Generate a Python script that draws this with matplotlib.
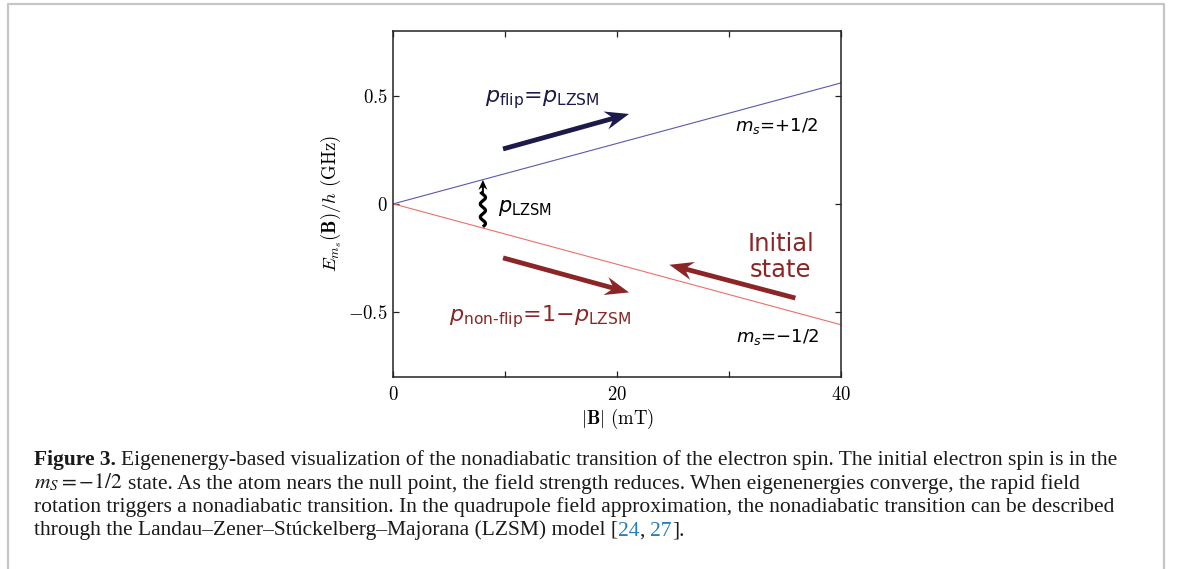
import numpy as np
import matplotlib
matplotlib.use('Agg')
import matplotlib.pyplot as plt
from matplotlib.lines import Line2D

plt.rcParams['mathtext.fontset'] = 'cm'
plt.rcParams['font.family'] = ['DejaVu Sans']

# ---- data ----
field_mT = [0, 40]
energy_up = [0, 0.56]      # m_s = +1/2 branch (GHz)
energy_down = [0, -0.56]   # m_s = -1/2 branch (GHz)

xticks_major = [0, 20, 40]
xtick_labels = [r'$0$', r'$20$', r'$40$']
xticks_minor = [10, 30]
yticks = [-0.5, 0, 0.5]
ytick_labels = [r'$-0.5$', r'$0$', r'$0.5$']

# arrows (tail, head) in data coords
flip_arrow = ((9.8, 0.254), (21.05, 0.416))
nonflip_arrow = ((9.8, -0.25), (21.05, -0.41))
initial_arrow = ((35.9, -0.436), (24.65, -0.282))
lzsm_arrow = ((8.0, -0.106), (8.0, 0.111))

caption_lines = [
    [("Figure 3.", "bold"), ("Eigenenergy-based visualization of the nonadiabatic transition of the electron spin. The initial electron spin is in the", None)],
    [(r"$m_S=-1/2$", "math"), ("state. As the atom nears the null point, the field strength reduces. When eigenenergies converge, the rapid field", None)],
    [("rotation triggers a nonadiabatic transition. In the quadrupole field approximation, the nonadiabatic transition can be described", None)],
    [("through the Landau\u2013Zener\u2013St\u00fackelberg\u2013Majorana (LZSM) model [", None), ("24", "ref"), (",", None), ("27", "ref"), ("].", None)],
]

W, H = 1181, 569
navy = '#1c1a4a'
darkred = '#8c2626'
upcol = '#5a5ab0'
downcol = '#ec7068'

fig = plt.figure(figsize=(W / 100, H / 100), dpi=100)
pos = [393.3 / W, 1 - 376.7 / H, 448 / W, 345.7 / H]
ax = fig.add_axes(pos)

ax.plot(field_mT, energy_up, color=upcol, lw=0.8)
ax.plot(field_mT, energy_down, color=downcol, lw=0.8)
ax.set_xlim(0, 40)
ax.set_ylim(-0.8, 0.8)

ax.set_xticks(xticks_major, labels=xtick_labels)
ax.set_xticks(xticks_minor, minor=True)
ax.set_yticks(yticks, labels=ytick_labels)
ax.tick_params(which='both', direction='in', top=True, right=True, length=4, width=0.9,
               color='#222222', labelsize=13.5)
ax.tick_params(axis='x', pad=6)
ax.tick_params(axis='y', pad=4)
for s in ax.spines.values():
    s.set_linewidth(1.1)
    s.set_color('#222222')

ax.set_xlabel(r'$|\mathbf{B}|\ (\mathrm{mT})$', fontsize=13.5, va='center')
ax.xaxis.set_label_coords(0.5, -0.122)
ax.set_ylabel(r'$E_{m_s}(\mathbf{B})/h\ (\mathrm{GHz})$', fontsize=13.5, va='center')
ax.yaxis.set_label_coords(-0.141, 0.5)

# overlay axes in pixel units so arrow heads are not distorted
ov = fig.add_axes(pos)
ov.set_xlim(0, 448)
ov.set_ylim(0, 345.7)
ov.set_axis_off()
to_px = ax.transData + ov.transData.inverted()

def big_arrow(arr, col):
    (x0, y0), (x1, y1) = to_px.transform(arr)
    ov.arrow(x0, y0, x1 - x0, y1 - y0, width=4.8, head_width=18.5, head_length=24,
             overhang=0.25, length_includes_head=True, color=col, lw=0)

big_arrow(flip_arrow, navy)
big_arrow(nonflip_arrow, darkred)
big_arrow(initial_arrow, darkred)

# wavy LZSM arrow
(sx, sy0), (_, sy1) = to_px.transform(lzsm_arrow)
yy = np.linspace(sy0, sy1 - 12, 200)
xx = sx + 2.6 * np.sin(2 * np.pi * (yy - sy0) / 13.0)
ov.plot(xx, yy, color='black', lw=2.3, solid_capstyle='butt')
ov.arrow(sx, sy1 - 14, 0, 14, width=2.0, head_width=9, head_length=10, overhang=0.25,
         length_includes_head=True, color='black', lw=0)

# labels inside the plot
mf = 'dejavusans'
ax.text(13.3, 0.468, r'$p_{\mathrm{flip}}$=$p_{\mathrm{LZSM}}$', color=navy, fontsize=16,
        ha='center', va='baseline', math_fontfamily=mf)
ax.text(13.1, -0.544, '$p_{\\mathrm{non\u2010flip}}$=1\u2212$p_{\\mathrm{LZSM}}$', color=darkred,
        fontsize=16, ha='center', va='baseline', math_fontfamily=mf)
ax.text(30.5, 0.339, r'$m_s$=+1/2', color='black', fontsize=13, ha='left', va='baseline',
        math_fontfamily=mf)
ax.text(30.6, -0.641, '$m_s$=\u22121/2', color='black', fontsize=13, ha='left', va='baseline',
        math_fontfamily=mf)
ax.text(9.34, -0.036, r'$p_{\mathrm{LZSM}}$', color='black', fontsize=15, ha='left',
        va='baseline', math_fontfamily=mf)
ax.text(34.6, -0.216, 'Initial', color=darkred, fontsize=17.5, ha='center', va='baseline')
ax.text(34.6, -0.339, 'state', color=darkred, fontsize=17.5, ha='center', va='baseline')

# outer grey frame (open at the bottom)
fx = [7.5 / W, 7.5 / W, 1163.5 / W, 1163.5 / W]
fy = [0, 1 - 3.5 / H, 1 - 3.5 / H, 0]
fig.add_artist(Line2D(fx, fy, transform=fig.transFigure, color='#c6c6c6', lw=1.6))

# caption
renderer = fig.canvas.get_renderer()
serif = 'Liberation Serif'

def piece_kw(kind, size):
    kw = dict(fontsize=size, family=serif, color='#1a1a1a')
    if kind == 'bold':
        kw['fontweight'] = 'bold'
    elif kind == 'math':
        kw['math_fontfamily'] = 'stix'
    elif kind == 'ref':
        kw['color'] = '#2a7db8'
    return kw

def measure(s, kw):
    t = fig.text(0, 0, s, **kw)
    w = t.get_window_extent(renderer).width
    t.remove()
    return w

def needs_gap(line, i):
    if i >= len(line) - 1:
        return False
    s, nxt = line[i][0], line[i + 1][0]
    return not (s.endswith('[') or nxt.startswith(']') or nxt == ',')

def line_width(line, size):
    base = piece_kw(None, size)
    gap = measure('x x', base) - measure('xx', base)
    tot = 0
    for i, (s, kind) in enumerate(line):
        tot += measure(s, piece_kw(kind, size))
        if needs_gap(line, i):
            tot += gap
    return tot

size = 14
size = size * 1086 / line_width(caption_lines[0], size)

baselines = [465, 488.5, 512, 535.5]
x_left = 34
for line, yb in zip(caption_lines, baselines):
    base = piece_kw(None, size)
    gap = measure('x x', base) - measure('xx', base)
    x = x_left
    for i, (s, kind) in enumerate(line):
        t = fig.text(x / W, 1 - yb / H, s, ha='left', va='baseline', **piece_kw(kind, size))
        x = t.get_window_extent(renderer).x1
        if needs_gap(line, i):
            x += gap

fig.savefig('out.png', dpi=100)
